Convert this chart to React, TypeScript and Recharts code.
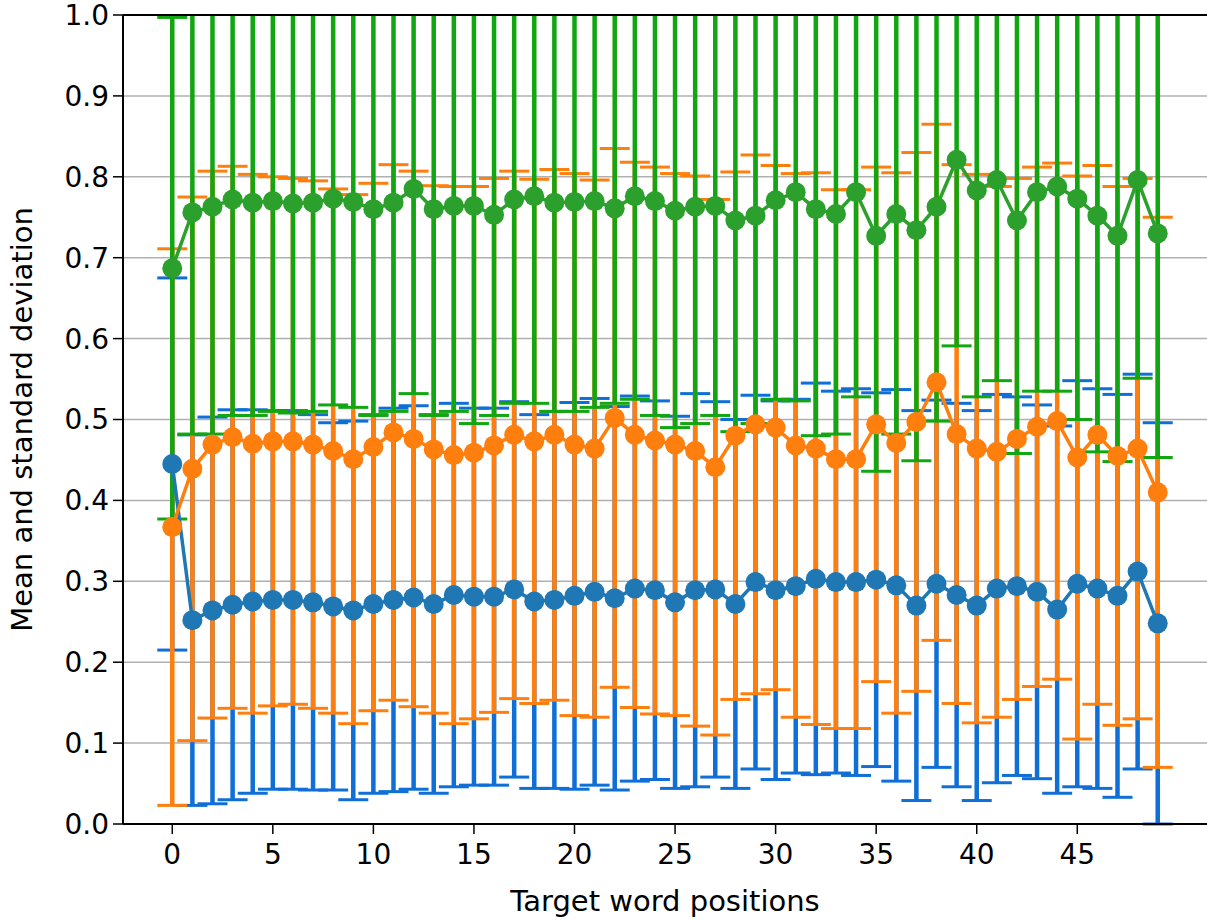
import { ComposedChart, Line, XAxis, YAxis, CartesianGrid, ErrorBar, ReferenceLine, ReferenceArea, Label } from "recharts";

// target word positions (x categories)
const positions = [
  0, 1, 2, 3, 4, 5, 6, 7, 8, 9, 10, 11, 12, 13, 14, 15, 16, 17, 18, 19, 20, 21, 22, 23, 24,
  25, 26, 27, 28, 29, 30, 31, 32, 33, 34, 35, 36, 37, 38, 39, 40, 41, 42, 43, 44, 45, 46, 47, 48, 49,
];

const blueMean = [
  0.445, 0.252, 0.264, 0.271, 0.275, 0.277, 0.277, 0.274, 0.269, 0.264,
  0.272, 0.277, 0.280, 0.272, 0.283, 0.281, 0.281, 0.290, 0.275, 0.277,
  0.282, 0.287, 0.279, 0.291, 0.289, 0.274, 0.289, 0.290, 0.272, 0.299,
  0.289, 0.294, 0.303, 0.299, 0.299, 0.302, 0.295, 0.270, 0.297, 0.283,
  0.270, 0.291, 0.294, 0.287, 0.265, 0.297, 0.291, 0.282, 0.312, 0.248,
];
const blueStd = [
  0.230, 0.229, 0.239, 0.241, 0.237, 0.234, 0.234, 0.232, 0.227, 0.234,
  0.234, 0.237, 0.237, 0.234, 0.237, 0.233, 0.233, 0.232, 0.231, 0.233,
  0.239, 0.239, 0.237, 0.238, 0.234, 0.230, 0.243, 0.232, 0.228, 0.231,
  0.234, 0.231, 0.242, 0.236, 0.239, 0.231, 0.242, 0.241, 0.227, 0.237,
  0.241, 0.240, 0.234, 0.231, 0.227, 0.251, 0.247, 0.249, 0.244, 0.248,
];

const orangeMean = [
  0.367, 0.439, 0.469, 0.478, 0.470, 0.473, 0.473, 0.469, 0.461, 0.451,
  0.466, 0.484, 0.476, 0.463, 0.456, 0.459, 0.468, 0.481, 0.473, 0.481,
  0.469, 0.464, 0.502, 0.481, 0.474, 0.469, 0.461, 0.441, 0.480, 0.494,
  0.490, 0.468, 0.464, 0.451, 0.451, 0.494, 0.471, 0.497, 0.546, 0.482,
  0.464, 0.460, 0.476, 0.491, 0.498, 0.453, 0.481, 0.455, 0.464, 0.410,
];
const orangeStd = [
  0.344, 0.336, 0.338, 0.335, 0.333, 0.327, 0.325, 0.326, 0.324, 0.327,
  0.326, 0.331, 0.331, 0.326, 0.332, 0.329, 0.330, 0.326, 0.324, 0.328,
  0.335, 0.332, 0.333, 0.337, 0.338, 0.335, 0.340, 0.331, 0.326, 0.333,
  0.324, 0.336, 0.341, 0.333, 0.333, 0.318, 0.334, 0.333, 0.319, 0.333,
  0.339, 0.328, 0.322, 0.321, 0.319, 0.348, 0.333, 0.333, 0.334, 0.340,
];

const greenMean = [
  0.687, 0.756, 0.763, 0.772, 0.768, 0.770, 0.767, 0.768, 0.773, 0.769,
  0.760, 0.768, 0.785, 0.760, 0.764, 0.764, 0.753, 0.772, 0.776, 0.768,
  0.769, 0.770, 0.761, 0.776, 0.770, 0.758, 0.763, 0.764, 0.746, 0.752,
  0.771, 0.781, 0.760, 0.754, 0.781, 0.727, 0.754, 0.734, 0.763, 0.821,
  0.783, 0.796, 0.746, 0.781, 0.788, 0.773, 0.752, 0.727, 0.796, 0.730,
];
const greenStd = [
  0.310, 0.274, 0.281, 0.267, 0.263, 0.260, 0.259, 0.258, 0.255, 0.254,
  0.255, 0.258, 0.253, 0.255, 0.254, 0.269, 0.248, 0.252, 0.256, 0.258,
  0.259, 0.255, 0.241, 0.251, 0.265, 0.268, 0.268, 0.259, 0.261, 0.257,
  0.246, 0.258, 0.280, 0.272, 0.253, 0.291, 0.272, 0.285, 0.265, 0.230,
  0.255, 0.248, 0.288, 0.246, 0.253, 0.273, 0.292, 0.279, 0.245, 0.277,
];

const xTicks = [0, 5, 10, 15, 20, 25, 30, 35, 40, 45];
const yTicks = [0, 0.1, 0.2, 0.3, 0.4, 0.5, 0.6, 0.7, 0.8, 0.9, 1.0];
const X_DOMAIN = [-2.45, 51.45];

const rows = positions.map((p, i) => ({
  pos: p,
  blue: blueMean[i],
  blueStd: blueStd[i],
  orange: orangeMean[i],
  orangeStd: orangeStd[i],
  green: greenMean[i],
  greenStd: greenStd[i],
}));

const SERIES = [
  { key: "blue", line: "#1f77b4", bar: "#0f6fd6" },
  { key: "orange", line: "#ff7f0e", bar: "#ff7f0e" },
  { key: "green", line: "#2ca02c", bar: "#12a612" },
];

const FONT = "DejaVu Sans, sans-serif";

export default function App() {
  return (
    <div style={{ position: "absolute", left: 0, top: 0, fontFamily: FONT }}>
      <ComposedChart
        width={1207}
        height={921}
        data={rows}
        margin={{ top: 15, right: 0, bottom: 0, left: 0 }}
      >
        <CartesianGrid vertical={false} stroke="#b0b0b0" strokeWidth={1.5} />

        {/* error bars first so every mean line sits above all of them */}
        {SERIES.map((s) => (
          <Line
            key={s.key + "-err"}
            dataKey={s.key}
            stroke="none"
            dot={false}
            activeDot={false}
            legendType="none"
            isAnimationActive={false}
          >
            <ErrorBar dataKey={s.key + "Std"} direction="y" width={0} stroke={s.bar} strokeWidth={4.5} />
            <ErrorBar dataKey={s.key + "Std"} direction="y" width={15} stroke={s.bar} strokeWidth={3} />
          </Line>
        ))}

        {SERIES.map((s) => (
          <Line
            key={s.key}
            dataKey={s.key}
            stroke={s.line}
            strokeWidth={3.5}
            dot={{ r: 10, fill: s.line, stroke: s.line, strokeWidth: 0 }}
            activeDot={false}
            isAnimationActive={false}
          />
        ))}

        {/* the error bars are not clipped: mask what goes above y = 1 */}
        <ReferenceArea
          x1={X_DOMAIN[0]}
          x2={X_DOMAIN[1]}
          y1={1}
          y2={1.05}
          fill="#fff"
          fillOpacity={1}
          stroke="none"
          ifOverflow="visible"
          zIndex={450}
        />
        <ReferenceLine y={1} stroke="#000" strokeWidth={2} zIndex={460} />

        <XAxis
          type="number"
          dataKey="pos"
          domain={X_DOMAIN}
          ticks={xTicks}
          allowDataOverflow
          height={97}
          tickSize={10}
          tickMargin={10}
          interval={0}
          stroke="#000"
          axisLine={{ stroke: "#000", strokeWidth: 2 }}
          tickLine={{ stroke: "#000", strokeWidth: 1.5 }}
          tick={{ fill: "#000", fontSize: 28, fontFamily: FONT }}
        >
          <Label
            value="Target word positions"
            position="insideBottom"
            offset={10}
            style={{ fill: "#000", fontSize: 29, fontFamily: FONT }}
          />
        </XAxis>
        <YAxis
          type="number"
          domain={[0, 1]}
          ticks={yTicks}
          allowDataOverflow
          width={123}
          tickSize={10}
          tickMargin={4}
          interval={0}
          axisLine={{ stroke: "#000", strokeWidth: 2 }}
          tickLine={{ stroke: "#000", strokeWidth: 1.5 }}
          tick={{ fill: "#000", fontSize: 28, fontFamily: FONT }}
          tickFormatter={(v: number) => v.toFixed(1)}
        >
          <Label
            content={({ viewBox }: any) => {
              const cx = viewBox.x + 32;
              const cy = viewBox.y + viewBox.height / 2;
              return (
                <text
                  x={cx}
                  y={cy}
                  transform={`rotate(-90 ${cx} ${cy})`}
                  textAnchor="middle"
                  fill="#000"
                  fontSize={29}
                  fontFamily={FONT}
                >
                  Mean and standard deviation
                </text>
              );
            }}
          />
        </YAxis>
      </ComposedChart>
    </div>
  );
}
